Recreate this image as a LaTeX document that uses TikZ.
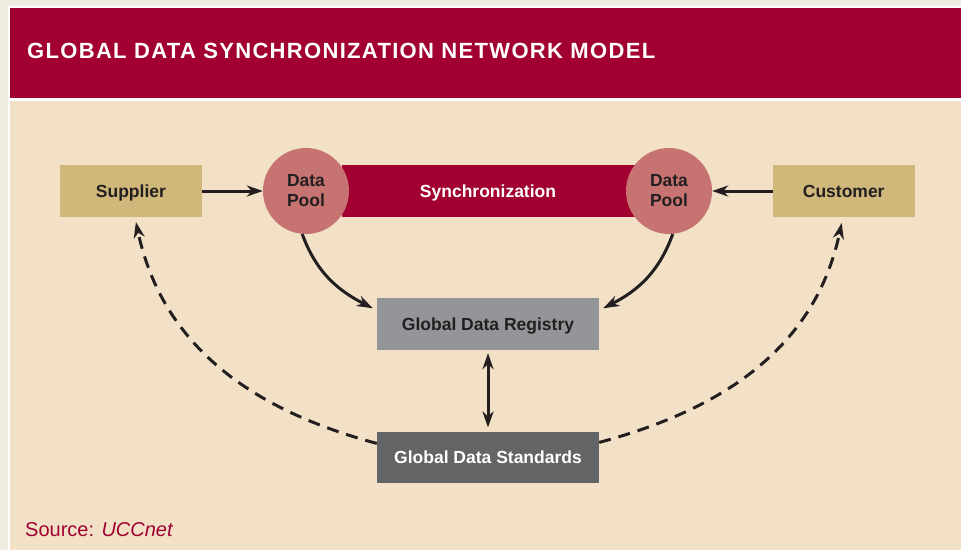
\documentclass[tikz,border=0pt]{standalone}
\usepackage{fontspec}
\setmainfont{Liberation Sans}
\newfontfamily\titlefont[LetterSpace=6]{Liberation Sans}
\usepackage{xcolor}
\usepackage{tikz}
\usetikzlibrary{positioning,arrows.meta}
\definecolor{GDSFrame}{HTML}{EFECE1}
\definecolor{GDSCrimson}{HTML}{A10031}
\definecolor{GDSPanel}{HTML}{F2E1C7}
\definecolor{GDSTan}{HTML}{D0B77A}
\definecolor{GDSPool}{HTML}{C77372}
\definecolor{GDSRegistry}{HTML}{939598}
\definecolor{GDSStandards}{HTML}{636466}
\definecolor{GDSInk}{HTML}{231F20}

\begin{document}
\begin{tikzpicture}[x=1pt, y=1pt,
                    >={Stealth[length=16pt,width=11pt,inset=5pt]},
                    every node/.style={font=\fontsize{17.5}{20}\selectfont\bfseries,
                                       text=GDSInk, align=center, inner sep=0pt},
                    box/.style={rectangle, minimum width=142pt, minimum height=51.5pt, fill=GDSTan,
                                text height=12.6pt, text depth=0pt},
                    pool/.style={circle, minimum size=86pt, fill=GDSPool},
                    arr/.style={->, draw=GDSInk, line width=3pt},
                    dasharr/.style={arr, dash pattern=on 12pt off 8pt}]
\useasboundingbox (0,0) rectangle (961,-550);
\fill[GDSFrame] (0,0) rectangle (961,-550);
\fill[white] (8,-6) rectangle (961,-550);
\fill[GDSCrimson] (10,-8) rectangle (961,-98);
\fill[GDSPanel] (10,-100.5) rectangle (961,-550);
\node[font=\titlefont\fontsize{22}{26}\selectfont\bfseries, text=white, anchor=base west]
  (title) at (27,-58.5) {GLOBAL DATA SYNCHRONIZATION NETWORK MODEL};
\node[box, fill=GDSCrimson, minimum width=293pt, text=white] (sync) at (488,-191) {Synchronization};
\node[pool] (lpool) at (306,-191) {Data\\Pool};
\node[pool] (rpool) at (669,-191) {Data\\Pool};
\node[box, left=60.7pt of lpool] (supplier) {Supplier};
\node[box, right=60.3pt of rpool] (customer) {Customer};
\node[box, fill=GDSRegistry, minimum width=222pt, below=81.3pt of sync] (registry) {Global Data Registry};
\node[box, fill=GDSStandards, text=white, minimum width=222pt, below=81.3pt of registry] (standards) {Global Data Standards};
\node[font=\fontsize{20}{24}\selectfont, text=GDSCrimson, anchor=base west]
  (source) at (25,-536) {Source: \textit{UCCnet}};
\draw[arr] (supplier) -- (lpool);
\draw[arr] (customer) -- (rpool);
\draw[arr] (lpool.265) to[out=-70,in=153] ([xshift=-4pt,yshift=-10pt]registry.north west);
\draw[arr] (rpool.275) to[out=-110,in=27] ([xshift=4pt,yshift=-10pt]registry.north east);
\draw[arr, <->, shorten <=3pt, shorten >=4pt] (registry) -- (standards);
\draw[dasharr] ([yshift=14pt]standards.west) to[out=165,in=-78] ([xshift=5pt,yshift=-5pt]supplier.south);
\draw[dasharr] ([yshift=15pt]standards.east) to[out=15,in=-102] ([xshift=-2pt,yshift=-6pt]customer.south);
\end{tikzpicture}
\end{document}
